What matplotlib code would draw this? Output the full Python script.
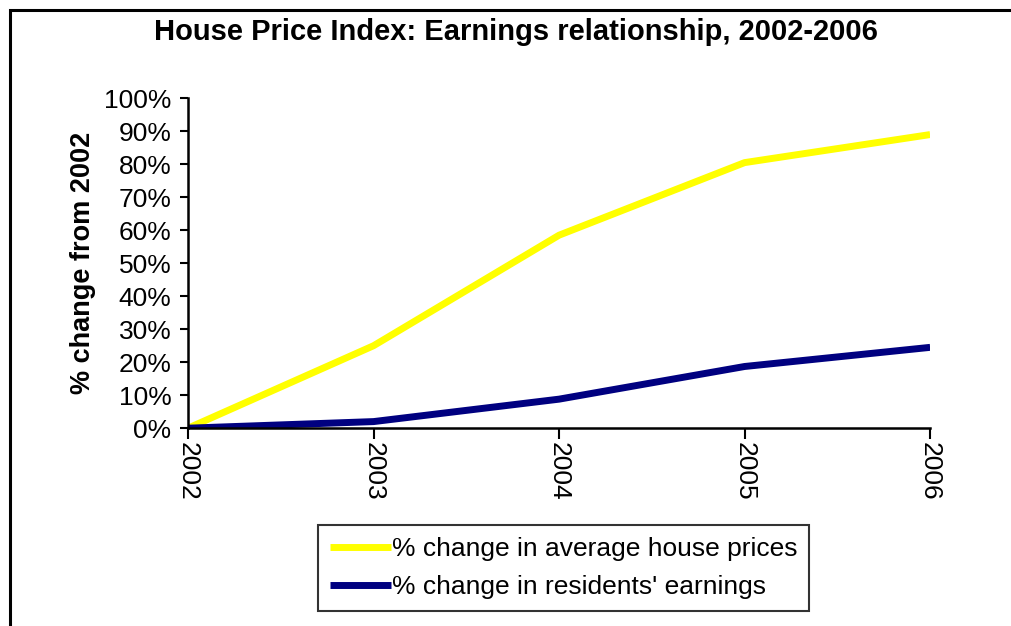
import matplotlib.pyplot as plt
from matplotlib.patches import Rectangle

plt.rcParams['font.family'] = ['Liberation Sans', 'DejaVu Sans']

# data
years = ['2002', '2003', '2004', '2005', '2006']
house_prices = [0, 25, 58.5, 80.5, 89]
earnings = [0, 2, 8.8, 18.7, 24.5]
yticks = [0, 10, 20, 30, 40, 50, 60, 70, 80, 90, 100]

fig = plt.figure(figsize=(10.11, 6.26), dpi=100)
ax = fig.add_axes([0.186, 0.316, 0.734, 0.527])

x = range(len(years))
ax.plot(x, house_prices, color='#ffff00', lw=5, solid_capstyle='butt',
        label='% change in average house prices')
ax.plot(x, earnings, color='#000080', lw=5, solid_capstyle='butt',
        label="% change in residents' earnings")

ax.set_xlim(0, len(years) - 1)
ax.set_ylim(0, 100)
ax.set_xticks(list(x))
ax.set_xticklabels(years, rotation=-90, fontsize=19)
ax.set_yticks(yticks)
ax.set_yticklabels([f'{v}%' for v in yticks], fontsize=19)
ax.tick_params(axis='x', length=8, width=1.5, pad=2)
ax.tick_params(axis='y', length=6, width=1.5, pad=6)

for s in ['top', 'right']:
    ax.spines[s].set_visible(False)
for s in ['left', 'bottom']:
    ax.spines[s].set_linewidth(1.8)

ax.set_ylabel('% change from 2002', fontsize=19.5, fontweight='bold', labelpad=6)
fig.suptitle('House Price Index: Earnings relationship, 2002-2006',
             fontsize=21, fontweight='bold', x=0.51, y=0.972)

leg = fig.legend(loc='upper left', bbox_to_anchor=(318 / 1011, 1 - 525 / 626),
                 fontsize=19, frameon=True, fancybox=False, edgecolor='black',
                 handlelength=2.3, handletextpad=0.05, borderpad=0.45,
                 labelspacing=0.55, borderaxespad=0)
leg.get_frame().set_linewidth(1.5)

# outer chart border (only left and top visible)
fig.patches.append(Rectangle((10 / 1011, -0.1), 1.2, 1 - 10 / 626 + 0.1,
                             transform=fig.transFigure, fill=False,
                             edgecolor='black', lw=2.2))

fig.savefig('out.png', dpi=100)
